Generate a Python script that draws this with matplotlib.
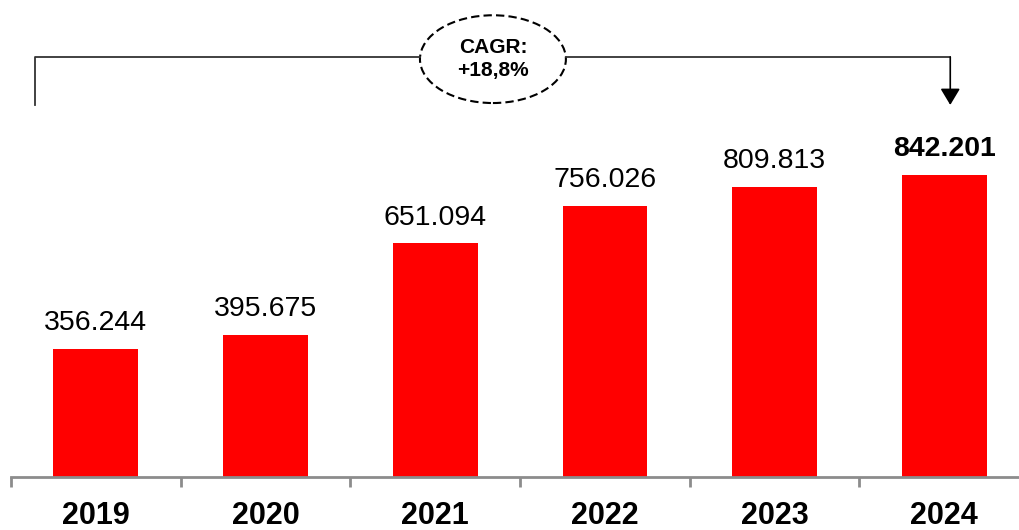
import matplotlib
matplotlib.use("Agg")
import matplotlib.pyplot as plt
import matplotlib.patches as mpatches
import matplotlib.transforms as mtransforms

plt.rcParams['font.family'] = ['Liberation Sans Narrow', 'Liberation Sans', 'DejaVu Sans']

years = ["2019", "2020", "2021", "2022", "2023", "2024"]
values = [356244, 395675, 651094, 756026, 809813, 842201]
labels = ["356.244", "395.675", "651.094", "756.026", "809.813", "842.201"]
cagr_text = "CAGR:\n+18,8%"

fig = plt.figure(figsize=(10.2, 5.3), dpi=100)
ax = fig.add_axes([11 / 1020, 53 / 530, 1009 / 1020, 477 / 530])

x = list(range(len(years)))
ax.bar(x, values, width=0.5, color="#FF0000")

for i, (v, lab) in enumerate(zip(values, labels)):
    weight = "bold" if i == len(values) - 1 else "normal"
    ax.annotate(lab, xy=(i, v), xytext=(0, 13.5), textcoords="offset points",
                ha="center", va="baseline", fontsize=20.5, fontweight=weight)

for s in ["top", "right", "left"]:
    ax.spines[s].set_visible(False)
ax.spines["bottom"].set_color("#8c8c8c")
ax.spines["bottom"].set_linewidth(2)
ax.set_yticks([])
ax.set_xticks(x)
ax.set_xticklabels(years, fontsize=22, fontweight="bold")
ax.tick_params(axis="x", which="major", length=0, pad=17)
ax.set_xticks([i - 0.5 for i in range(len(years) + 1)], minor=True)
ax.tick_params(axis="x", which="minor", length=7, width=2, color="#8c8c8c", direction="out")

# limits after ticks, otherwise the minor ticks widen them
ax.set_xlim(-0.5, 5.446)
ax.set_ylim(0, 1330000)

# CAGR bracket
tr = mtransforms.blended_transform_factory(ax.transData, ax.transAxes)
y_top = 0.8805
y_low = 0.78
x_left = -0.36
x_right = len(years) - 1 + 0.035
ell_x = 2.34
ell_w = 0.86
ax.plot([x_left, x_left, ell_x - ell_w / 2], [y_low, y_top, y_top], color="#333333",
        lw=1.3, transform=tr, clip_on=False)
ax.plot([ell_x + ell_w / 2, x_right], [y_top, y_top], color="#333333",
        lw=1.3, transform=tr, clip_on=False)
ax.annotate("", xy=(x_right, y_low), xytext=(x_right, y_top), xycoords=tr, textcoords=tr,
            arrowprops=dict(arrowstyle="-|>,head_length=0.5,head_width=0.3", mutation_scale=20,
                            color="black", lw=1.2, shrinkA=0, shrinkB=0))
ell = mpatches.Ellipse((ell_x, 0.876), ell_w, 0.184, transform=tr, facecolor="white",
                       edgecolor="black", lw=1.5, linestyle=(0, (4, 2)), clip_on=False)
ax.add_patch(ell)
ax.text(ell_x, 0.876, cagr_text, transform=tr, ha="center", va="center",
        fontsize=15, fontweight="bold", linespacing=1.3)

fig.savefig("out.png", dpi=100)
